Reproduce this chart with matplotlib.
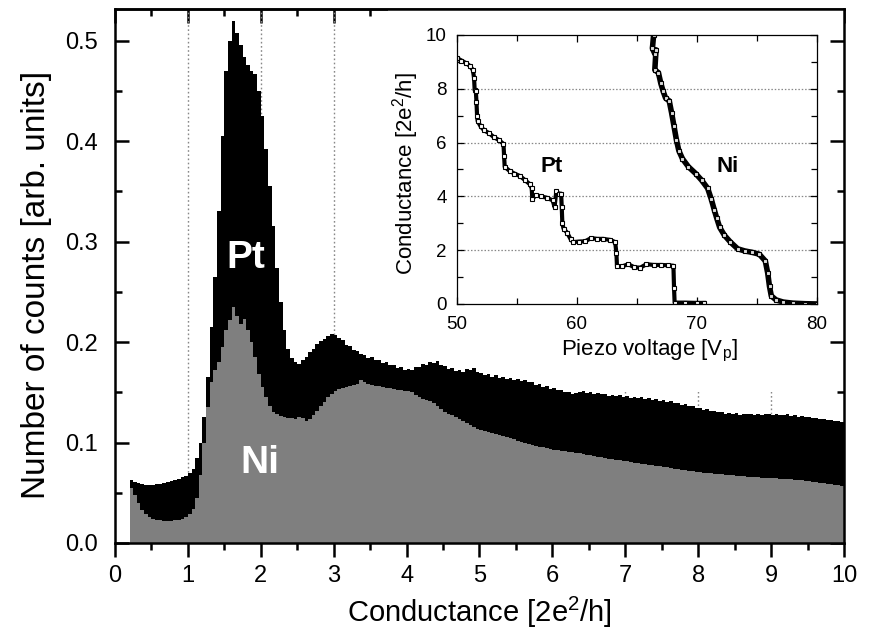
import numpy as np
import matplotlib
matplotlib.use("Agg")
import matplotlib.pyplot as plt
from matplotlib.ticker import MultipleLocator
from matplotlib.patches import Rectangle

plt.rcParams["font.family"] = ["Liberation Sans", "DejaVu Sans"]
plt.rcParams["mathtext.default"] = "regular"

# histogram, bins of 0.05 starting at G = 0.2 (2e^2/h)
bin_start = 0.2
bin_width = 0.05

pt_counts = [
    0.063, 0.061, 0.060, 0.059, 0.058, 0.058, 0.058, 0.059, 0.059, 0.060,
    0.061, 0.062, 0.063, 0.064, 0.066, 0.067, 0.070, 0.074, 0.085, 0.100,
    0.125, 0.165, 0.215, 0.265, 0.330, 0.405, 0.470, 0.500, 0.520, 0.508,
    0.496, 0.484, 0.476, 0.470, 0.467, 0.450, 0.425, 0.392, 0.355, 0.315,
    0.274, 0.240, 0.212, 0.193, 0.184, 0.180, 0.178, 0.182, 0.185, 0.190,
    0.193, 0.198, 0.201, 0.203, 0.206, 0.208, 0.207, 0.204, 0.202, 0.197,
    0.196, 0.192, 0.191, 0.188, 0.187, 0.184, 0.185, 0.182, 0.182, 0.179,
    0.180, 0.177, 0.177, 0.174, 0.175, 0.172, 0.173, 0.172, 0.175, 0.175,
    0.178, 0.177, 0.180, 0.179, 0.181, 0.177, 0.176, 0.173, 0.174, 0.171,
    0.172, 0.170, 0.173, 0.172, 0.174, 0.170, 0.169, 0.167, 0.168, 0.165,
    0.167, 0.164, 0.165, 0.163, 0.164, 0.162, 0.163, 0.161, 0.162, 0.160,
    0.160, 0.157, 0.158, 0.155, 0.156, 0.153, 0.154, 0.152, 0.152, 0.150,
    0.150, 0.148, 0.149, 0.150, 0.151, 0.149, 0.150, 0.148, 0.149, 0.148,
    0.148, 0.146, 0.147, 0.146, 0.147, 0.145, 0.146, 0.144, 0.145, 0.144,
    0.145, 0.143, 0.144, 0.142, 0.143, 0.141, 0.142, 0.140, 0.141, 0.139,
    0.139, 0.137, 0.138, 0.136, 0.136, 0.134, 0.134, 0.132, 0.133, 0.131,
    0.131, 0.130, 0.130, 0.128, 0.129, 0.128, 0.129, 0.127, 0.128, 0.128,
    0.128, 0.127, 0.128, 0.127, 0.128, 0.128, 0.127, 0.128, 0.127, 0.127,
    0.128, 0.126, 0.127, 0.125, 0.126, 0.125, 0.125, 0.124, 0.124, 0.123,
    0.123, 0.122, 0.122, 0.121, 0.121, 0.120,
]

ni_counts = [
    0.055, 0.048, 0.040, 0.033, 0.029, 0.026, 0.024, 0.023, 0.023, 0.022,
    0.022, 0.022, 0.023, 0.023, 0.024, 0.026, 0.029, 0.034, 0.045, 0.068,
    0.100, 0.135, 0.160, 0.172, 0.180, 0.195, 0.212, 0.222, 0.235, 0.226,
    0.218, 0.223, 0.212, 0.200, 0.185, 0.168, 0.155, 0.145, 0.136, 0.130,
    0.128, 0.126, 0.125, 0.124, 0.124, 0.123, 0.125, 0.124, 0.121, 0.123,
    0.127, 0.131, 0.136, 0.140, 0.145, 0.148, 0.151, 0.153, 0.154, 0.155,
    0.156, 0.157, 0.158, 0.162, 0.160, 0.158, 0.157, 0.156, 0.156, 0.155,
    0.154, 0.154, 0.153, 0.152, 0.152, 0.151, 0.151, 0.150, 0.147, 0.145,
    0.143, 0.142, 0.141, 0.139, 0.136, 0.133, 0.130, 0.128, 0.127, 0.125,
    0.123, 0.121, 0.119, 0.117, 0.115, 0.113, 0.112, 0.111, 0.110, 0.109,
    0.108, 0.107, 0.106, 0.105, 0.104, 0.103, 0.102, 0.101, 0.100, 0.099,
    0.098, 0.097, 0.096, 0.096, 0.095, 0.094, 0.093, 0.093, 0.092, 0.092,
    0.091, 0.091, 0.090, 0.090, 0.089, 0.088, 0.088, 0.087, 0.086, 0.086,
    0.085, 0.084, 0.084, 0.083, 0.083, 0.082, 0.082, 0.081, 0.080, 0.080,
    0.079, 0.079, 0.078, 0.078, 0.077, 0.077, 0.076, 0.076, 0.075, 0.074,
    0.074, 0.073, 0.073, 0.072, 0.072, 0.071, 0.071, 0.070, 0.070, 0.070,
    0.069, 0.069, 0.069, 0.068, 0.068, 0.068, 0.067, 0.067, 0.067, 0.066,
    0.066, 0.066, 0.066, 0.065, 0.065, 0.065, 0.065, 0.065, 0.064, 0.064,
    0.064, 0.064, 0.063, 0.063, 0.063, 0.062, 0.062, 0.061, 0.061, 0.060,
    0.060, 0.059, 0.059, 0.058, 0.058, 0.057,
]

# inset: conductance traces vs piezo voltage
pt_volt = [50.0, 50.4, 50.8, 51.1, 51.35, 51.45, 51.5, 51.6, 51.65, 51.7,
           51.75, 52.0, 52.3, 52.7, 53.1, 53.5, 53.9, 53.95, 54.0, 54.4,
           54.8, 55.3, 55.7, 56.1, 56.25, 56.3, 56.6, 57.0, 57.5, 58.0,
           58.15, 58.3, 58.5, 58.7, 58.75, 58.8, 58.9, 59.2, 59.5, 59.7,
           60.2, 60.7, 61.2, 61.7, 62.2, 62.8, 63.2, 63.3, 63.35, 63.8,
           64.3, 64.8, 65.3, 65.8, 66.4, 67.0, 67.6, 68.05, 68.1, 68.15,
           69.0, 70.0, 70.6]
pt_cond = [9.15, 9.05, 8.95, 8.85, 8.7, 8.4, 7.95, 7.9, 7.5, 7.0,
           6.8, 6.6, 6.45, 6.35, 6.2, 6.1, 5.95, 5.5, 5.1, 4.95,
           4.85, 4.75, 4.6, 4.45, 4.3, 3.9, 4.05, 4.0, 3.95, 3.85,
           3.6, 4.2, 4.1, 4.1, 3.6, 3.0, 2.8, 2.65, 2.4, 2.3,
           2.32, 2.33, 2.45, 2.42, 2.42, 2.38, 2.3, 1.9, 1.4, 1.4,
           1.48, 1.36, 1.35, 1.48, 1.45, 1.45, 1.44, 1.42, 0.6, 0.05,
           0.05, 0.04, 0.04]

ni_volt = [66.4, 66.3, 66.5, 66.6, 66.5, 66.8, 67.0, 67.2, 67.4, 67.7,
           67.9, 68.1, 68.3, 68.5, 68.8, 69.3, 69.9, 70.4, 70.9, 71.2,
           71.45, 71.65, 71.9, 72.3, 72.8, 73.4, 74.0, 74.6, 75.2, 75.7,
           75.9, 76.05, 76.2, 76.6, 77.2, 78.0, 79.0, 80.0]
ni_cond = [10.0, 9.5, 9.3, 9.45, 8.7, 8.6, 8.2, 7.9, 7.65, 7.55,
           7.1, 6.6, 6.1, 5.7, 5.4, 5.1, 4.85, 4.6, 4.3, 3.9,
           3.5, 3.2, 2.85, 2.55, 2.3, 2.05, 1.97, 1.92, 1.85, 1.6,
           1.15, 0.65, 0.3, 0.15, 0.07, 0.03, 0.01, 0.0]

edges = bin_start + bin_width * np.arange(len(pt_counts) + 1)

fig = plt.figure(figsize=(8.69, 6.35), dpi=100)
ax = fig.add_axes([0.1323, 0.1449, 0.8389, 0.8402])

# dotted guides at integer conductance, hidden behind the inset area
for g in range(1, 10):
    ax.axvline(g, color="#888888", lw=1.0, ls=(0, (1.2, 1.8)), zorder=0.5)
ax.add_patch(Rectangle((3.75, 0.15), 6.3, 0.4, facecolor="white",
                       edgecolor="none", zorder=0.8))

ax.stairs(pt_counts, edges, fill=True, color="black", zorder=1)
ax.stairs(ni_counts, edges, fill=True, color="#7f7f7f", zorder=2)

ax.text(1.80, 0.284, "Pt", color="white", fontsize=28, fontweight="bold",
        ha="center", va="center", zorder=3)
ax.text(1.99, 0.080, "Ni", color="white", fontsize=28, fontweight="bold",
        ha="center", va="center", zorder=3)

ax.set_xlim(0, 10)
ax.set_ylim(0, 0.531)
ax.xaxis.set_major_locator(MultipleLocator(1))
ax.xaxis.set_minor_locator(MultipleLocator(0.5))
ax.yaxis.set_major_locator(MultipleLocator(0.1))
ax.yaxis.set_minor_locator(MultipleLocator(0.05))
ax.yaxis.set_major_formatter(matplotlib.ticker.FormatStrFormatter("%.1f"))

for s in ax.spines.values():
    s.set_linewidth(1.8)
ax.tick_params(axis="x", which="both", direction="out", top=False,
               labelsize=17, width=1.8, pad=6)
ax.tick_params(axis="x", which="major", length=10)
ax.tick_params(axis="x", which="minor", length=5)
ax.tick_params(axis="y", which="both", direction="in", left=True, right=True,
               labelsize=17, width=1.8, pad=12)
ax.tick_params(axis="y", which="major", length=10)
ax.tick_params(axis="y", which="minor", length=5)

top = ax.secondary_xaxis("top")
top.xaxis.set_major_locator(MultipleLocator(1))
top.xaxis.set_minor_locator(MultipleLocator(0.5))
top.tick_params(axis="x", which="both", direction="in", labeltop=False, width=1.8)
top.tick_params(axis="x", which="major", length=10)
top.tick_params(axis="x", which="minor", length=5)
top.spines["top"].set_linewidth(1.8)

ax.set_xlabel("Conductance [2e$^2$/h]", fontsize=21)
ax.set_ylabel("Number of counts [arb. units]", fontsize=24)
ax.xaxis.set_label_coords(0.5, -0.097)
ax.yaxis.set_label_coords(-0.086, 0.484)

# inset
ins = fig.add_axes([0.5255, 0.5213, 0.4146, 0.4236])
ins.set_facecolor("white")
ins.plot(pt_volt, pt_cond, color="black", lw=3.0, marker="s", ms=3.2,
         mfc="white", mec="black", mew=0.8)
ins.plot(ni_volt, ni_cond, color="black", lw=4.0, marker="s", ms=3.5,
         mfc="#dddddd", mec="black", mew=0.8)
for g in (2, 4, 6, 8):
    ins.axhline(g, color="#888888", lw=0.9, ls=(0, (1.2, 1.5)), zorder=0)
ins.text(57.9, 5.1, "Pt", fontsize=16, fontweight="bold", ha="center", va="center")
ins.text(72.6, 5.1, "Ni", fontsize=16, fontweight="bold", ha="center", va="center")
ins.set_xlim(50, 80)
ins.set_ylim(0, 10)
ins.xaxis.set_major_locator(MultipleLocator(10))
ins.xaxis.set_minor_locator(MultipleLocator(5))
ins.yaxis.set_major_locator(MultipleLocator(2))
ins.yaxis.set_minor_locator(MultipleLocator(1))
for s in ins.spines.values():
    s.set_linewidth(0.9)
ins.tick_params(which="both", direction="in", top=True, right=True,
                labelsize=13.5, width=0.9)
ins.tick_params(which="major", length=5)
ins.tick_params(which="minor", length=4)
ins.tick_params(axis="x", pad=9)
ins.tick_params(axis="y", pad=7)
ins.set_xlabel("Piezo voltage [V$_p$]", fontsize=16)
ins.set_ylabel("Conductance [2e$^2$/h]", fontsize=16)
ins.xaxis.set_label_coords(0.536, -0.126)
ins.yaxis.set_label_coords(-0.099, 0.483)

fig.savefig("out.png", dpi=100)
